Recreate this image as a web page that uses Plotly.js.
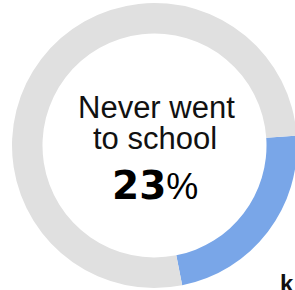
<!DOCTYPE html>
<html>
<head>
<meta charset="utf-8">
<script src="https://cdn.plot.ly/plotly-3.0.1.min.js"></script>
<style>
  html, body { margin: 0; padding: 0; overflow: hidden; background: #fff; }
  #chart { width: 310px; height: 290px; }
</style>
</head>
<body>
<div id="chart"></div>
<script>
// ---- data ----
const labels = ['Never went to school', 'Other'];
const values = [23, 77];
const centerLines = ['Never went', 'to school'];
const cornerText = 'k';

// ---- layout helpers (pixel -> paper) ----
const W = 310, H = 290;
const M = { l: 12, r: 13, t: 3, b: 2 };
const pw = W - M.l - M.r, ph = H - M.t - M.b;
const px = x => (x - M.l) / pw;
const py = y => 1 - (y - M.t) / ph;

const trace = {
  type: 'pie',
  labels: labels,
  values: values,
  hole: 0.786,
  sort: false,
  direction: 'clockwise',
  rotation: 86,
  textinfo: 'none',
  hoverinfo: 'none',
  showlegend: false,
  marker: { colors: ['#79a6e8', '#e0e0e0'], line: { width: 0 } }
};

const layout = {
  width: W, height: H,
  margin: M,
  paper_bgcolor: '#ffffff',
  plot_bgcolor: '#ffffff',
  showlegend: false,
  annotations: [
    { text: centerLines[0], xref: 'paper', yref: 'paper', x: px(156), y: py(107.5),
      xanchor: 'center', yanchor: 'middle', showarrow: false,
      font: { family: 'Liberation Sans, Arial, sans-serif', size: 31, color: '#111' } },
    { text: centerLines[1], xref: 'paper', yref: 'paper', x: px(154.5), y: py(139),
      xanchor: 'center', yanchor: 'middle', showarrow: false,
      font: { family: 'Liberation Sans, Arial, sans-serif', size: 31, color: '#111' } },
    { text: '<b>' + values[0] + '</b><span style="font-family:Liberation Sans, Arial, sans-serif;font-size:36px">%</span>',
      xref: 'paper', yref: 'paper', x: px(154.5), y: py(185),
      xanchor: 'center', yanchor: 'middle', showarrow: false,
      font: { family: 'DejaVu Sans, sans-serif', size: 39, color: '#000' } },
    { text: '<b>' + cornerText + '</b>', xref: 'paper', yref: 'paper', x: px(296), y: py(283),
      xanchor: 'right', yanchor: 'middle', showarrow: false,
      font: { family: 'Liberation Sans, Arial, sans-serif', size: 24, color: '#111' } }
  ]
};

Plotly.newPlot('chart', [trace], layout, { staticPlot: true, displayModeBar: false });
</script>
</body>
</html>
